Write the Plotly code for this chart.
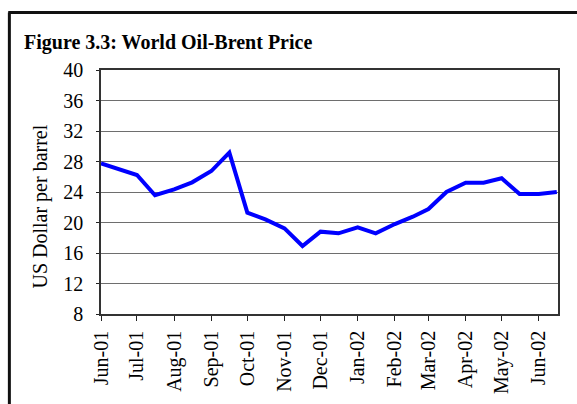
import plotly.graph_objects as go

# Brent price, semi-monthly readings (US$ per barrel)
dates = [
    "2001-06-01", "2001-07-01", "2001-07-16", "2001-08-01", "2001-08-16",
    "2001-09-01", "2001-09-16", "2001-10-01", "2001-10-16", "2001-11-01",
    "2001-11-16", "2001-12-01", "2001-12-16", "2002-01-01", "2002-01-16",
    "2002-02-01", "2002-02-16", "2002-03-01", "2002-03-16", "2002-04-01",
    "2002-04-16", "2002-05-01", "2002-05-16", "2002-06-01", "2002-06-16",
]
prices = [
    27.76, 26.23, 23.57, 24.35, 25.27,
    26.75, 29.16, 21.29, 20.41, 19.23,
    16.92, 18.80, 18.58, 19.37, 18.58,
    19.80, 20.76, 21.77, 24.00, 25.22,
    25.22, 25.80, 23.74, 23.74, 24.00,
]
y_ticks = [8, 12, 16, 20, 24, 28, 32, 36, 40]

FONT = "Liberation Serif"

fig = go.Figure(go.Scatter(
    x=dates, y=prices, mode="lines",
    line=dict(color="#0000FF", width=4),
    hoverinfo="x+y",
))

fig.update_layout(
    width=577, height=404,
    paper_bgcolor="white", plot_bgcolor="white",
    margin=dict(l=101, r=19, t=70, b=90),
    showlegend=False,
    font=dict(family=FONT, color="black", size=20),
    xaxis=dict(
        type="date", range=["2001-06-01", "2002-06-17"],
        tick0="2001-06-01", dtick="M1", tickformat="%b-%y",
        tickangle=-90, ticks="outside", ticklen=5, tickcolor="#222",
        showgrid=False, showline=True, linecolor="#333", linewidth=1.5, mirror=True,
        tickfont=dict(family=FONT, size=20, color="black"),
        ticklabelstandoff=2, automargin=False,
    ),
    yaxis=dict(
        range=[8, 40], tickvals=y_ticks,
        ticks="outside", ticklen=3, tickcolor="#222",
        showgrid=True, gridcolor="#6e6e6e", gridwidth=1,
        showline=True, linecolor="#333", linewidth=1.5, mirror=True,
        tickfont=dict(family=FONT, size=20, color="black"),
        ticklabelstandoff=9, zeroline=False, automargin=False,
    ),
    annotations=[
        dict(text="<b>Figure 3.3: World Oil-Brent Price</b>",
             xref="paper", yref="paper", x=-0.172, y=1.113,
             xanchor="left", yanchor="middle", showarrow=False,
             font=dict(family=FONT, size=20, color="black")),
        dict(text="US Dollar per barrel", textangle=-90,
             xref="paper", yref="paper", x=-0.1326, y=0.442,
             xanchor="center", yanchor="middle", showarrow=False,
             font=dict(family=FONT, size=20, color="black")),
    ],
    shapes=[
        # outer frame: top and left edges of the figure box
        dict(type="line", xref="paper", yref="paper",
             x0=-0.203, x1=1.1, y0=1.236, y1=1.236,
             line=dict(color="#111", width=3)),
        dict(type="line", xref="paper", yref="paper",
             x0=-0.2005, x1=-0.2005, y0=1.236, y1=-0.45,
             line=dict(color="#111", width=3)),
    ],
)

fig.write_html("out.html", config={"displayModeBar": False},
               post_script="document.body.style.margin='0';")
